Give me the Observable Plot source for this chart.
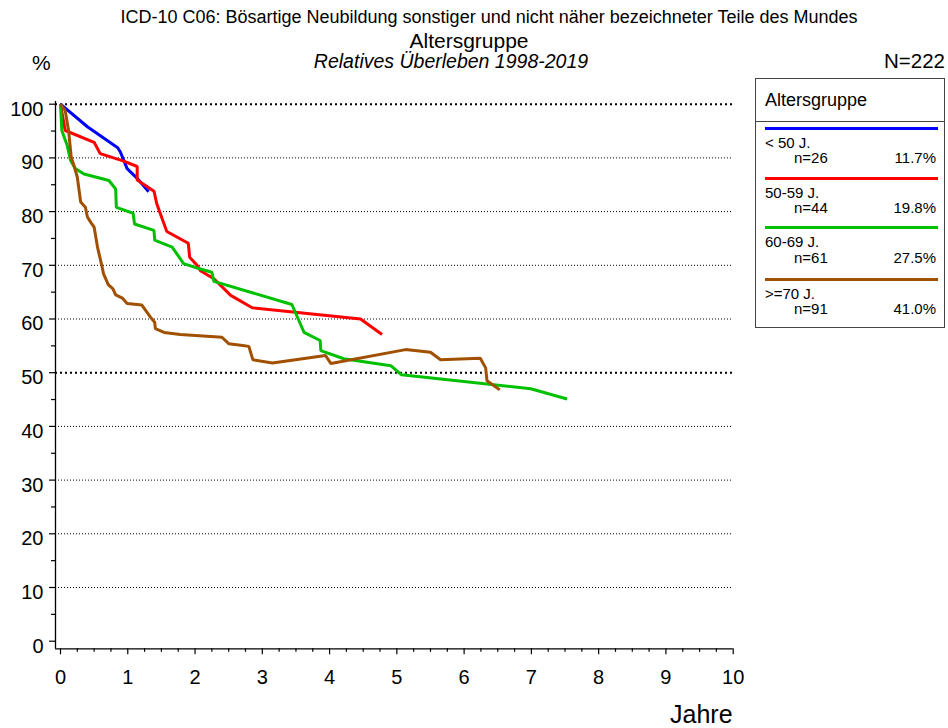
<!DOCTYPE html>
<html>
<head>
<meta charset="utf-8">
<script src="https://cdn.jsdelivr.net/npm/d3@7"></script>
<script src="https://cdn.jsdelivr.net/npm/@observablehq/plot@0.6"></script>
<style>
  html, body { margin: 0; padding: 0; background: #fff; }
  #wrap { position: relative; width: 948px; height: 728px; font-family: "Liberation Sans", Arial, sans-serif; color: #000; }
  #wrap svg { position: absolute; left: 0; top: 0; }
  .abs { position: absolute; white-space: nowrap; line-height: 1; }
  #legend { position: absolute; left: 755px; top: 78px; width: 190px; height: 250px; border: 1px solid #444; box-sizing: border-box; background: #fff; }
  #legend .hdr { position: absolute; left: 9px; top: 11.3px; font-size: 18px; }
  #legend .sep { position: absolute; left: 0; right: 0; top: 41.5px; border-top: 1px solid #444; }
  #legend .item { position: absolute; left: 0; width: 188px; height: 50px; }
  #legend .ln { position: absolute; left: 9px; width: 173px; height: 3px; top: 0; }
  #legend .lab { position: absolute; left: 9px; top: 8px; font-size: 15px; line-height: 15px; }
  #legend .n { position: absolute; left: 38px; top: 23.4px; font-size: 15px; line-height: 15px; }
  #legend .pct { position: absolute; right: 8px; top: 23.4px; font-size: 15px; line-height: 15px; }
</style>
</head>
<body>
<div id="wrap"></div>
<script>
// ---- data ----
const groups = ["< 50 J.", "50-59 J.", "60-69 J.", ">=70 J."];
const groupColors = ["#0000ff", "#ff0000", "#00c000", "#a05000"];
const groupN = [26, 44, 61, 91];
const groupPct = ["11.7%", "19.8%", "27.5%", "41.0%"];

const t50 = [0, 0.4, 0.85, 0.89, 0.99, 1.14, 1.31];
const s50 = [100, 95.8, 91.9, 91.1, 88.0, 86.2, 83.7];

const t5059 = [0, 0.07, 0.5, 0.59, 0.94, 1.14, 1.14, 1.39, 1.43, 1.51, 1.58, 1.90, 1.92, 2.03, 2.08, 2.28, 2.53, 2.85, 4.46, 4.78];
const s5059 = [100, 95.1, 92.9, 90.8, 89.4, 88.4, 85.9, 83.8, 81.5, 78.7, 76.3, 74.1, 71.5, 70.0, 69.0, 67.5, 64.4, 62.1, 60.0, 57.1];

const t6069 = [0, 0.02, 0.10, 0.15, 0.22, 0.35, 0.72, 0.82, 0.83, 1.08, 1.10, 1.39, 1.40, 1.66, 1.83, 2.08, 2.25, 2.28, 3.44, 3.62, 3.86, 3.87, 4.21, 4.91, 5.07, 6.99, 7.53];
const s6069 = [100, 95.1, 92.3, 89.5, 88.0, 87.0, 85.8, 84.2, 80.8, 79.7, 77.7, 76.5, 74.7, 73.4, 70.3, 69.3, 68.7, 67.0, 62.7, 57.5, 56.0, 54.1, 52.6, 51.3, 49.6, 47.0, 45.1];

const t70 = [0, 0.07, 0.12, 0.16, 0.20, 0.25, 0.30, 0.37, 0.40, 0.45, 0.50, 0.55, 0.62, 0.64, 0.71, 0.78, 0.82, 0.92, 0.99, 1.21, 1.34, 1.40, 1.41, 1.54, 1.78, 2.40, 2.50, 2.68, 2.80, 2.86, 3.15, 3.94, 4.02, 5.13, 5.50, 5.65, 6.24, 6.32, 6.34, 6.53];
const s70 = [100, 98.8, 95.1, 90.1, 88.6, 86.4, 81.8, 80.8, 79.0, 78.0, 77.1, 73.4, 69.6, 68.4, 66.4, 65.6, 64.5, 63.9, 62.9, 62.6, 60.3, 59.4, 58.2, 57.5, 57.1, 56.6, 55.4, 55.1, 54.9, 52.4, 51.8, 53.2, 51.7, 54.3, 53.8, 52.4, 52.7, 50.9, 48.5, 46.8];

const yMajor = d3.range(0, 101, 10);
const yMinor = d3.range(5, 100, 10);
const xMajor = d3.range(0, 11, 1);
const xMinor = d3.range(0, 10.01, 0.25).filter(v => Math.abs(v - Math.round(v)) > 1e-9);
const gridThin = [10, 20, 30, 40, 60, 70, 80, 90];
const gridThick = [50, 100];

// ---- table ----
const series = [[t50, s50], [t5059, s5059], [t6069, s6069], [t70, s70]];
const rows = series.flatMap(([t, s], gi) => t.map((x, i) => ({group: groups[gi], t: x, s: s[i]})));

const pxPerYear = 67.27;
const axisOff = 5 / pxPerYear; // y-axis sits 5px left of x=0

const chart = Plot.plot({
  width: 948,
  height: 728,
  marginLeft: 60,
  marginRight: 215.3,
  marginTop: 103.7,
  marginBottom: 87.3,
  style: {fontFamily: "'Liberation Sans', Arial, sans-serif", background: "transparent", color: "#000"},
  x: {domain: [0, 10]},
  y: {domain: [0, 100]},
  color: {domain: groups, range: groupColors},
  marks: [
    Plot.ruleY(gridThin, {x1: -axisOff, x2: 10, stroke: "#000", strokeWidth: 1, strokeDasharray: "1,2"}),
    Plot.ruleY(gridThick, {x1: -axisOff, x2: 10, stroke: "#000", strokeWidth: 2, strokeDasharray: "2,3"}),
    // axes lines
    Plot.ruleX([0], {dx: -5, y1: -1.45, y2: 100.5, stroke: "#000", strokeWidth: 1.3}),
    Plot.ruleY([0], {dy: 7.6, x1: -axisOff, x2: 10, stroke: "#000", strokeWidth: 1.3}),
    // y ticks
    Plot.axisY({ticks: yMajor, tickSize: 6, dx: -5, fill: "none", label: null, strokeWidth: 1.2}),
    Plot.axisY({ticks: yMinor, tickSize: 4, dx: -5, fill: "none", label: null, tickFormat: () => "", strokeWidth: 1.2}),
    Plot.axisY({ticks: yMajor, tickSize: 0, dx: -5, dy: 5, tickPadding: 12, fontSize: 20, label: null}),
    // x ticks
    Plot.axisX({ticks: xMajor, tickSize: 6, dy: 7.6, fill: "none", label: null, strokeWidth: 1.2}),
    Plot.axisX({ticks: xMinor, tickSize: 3.5, dy: 7.6, fill: "none", label: null, tickFormat: () => "", strokeWidth: 1.2}),
    Plot.axisX({ticks: xMajor, tickSize: 0, dy: 7.6, tickPadding: 21.3, fontSize: 20, label: null}),
    // curves
    Plot.line(rows, {x: "t", y: "s", z: "group", stroke: "group", strokeWidth: 3, strokeLinejoin: "miter", strokeLinecap: "butt", curve: "linear"})
  ]
});

const wrap = document.getElementById("wrap");
wrap.appendChild(chart);

function addText(txt, left, top, size, extra = {}) {
  const d = document.createElement("div");
  d.className = "abs";
  d.textContent = txt;
  d.style.left = left + "px";
  d.style.top = top + "px";
  d.style.fontSize = size + "px";
  Object.assign(d.style, extra);
  wrap.appendChild(d);
  return d;
}
addText("ICD-10 C06: Bösartige Neubildung sonstiger und nicht näher bezeichneter Teile des Mundes", 489, 8.2, 18, {transform: "translateX(-50%)"});
addText("Altersgruppe", 469, 29.8, 21, {transform: "translateX(-50%)"});
addText("Relatives Überleben 1998-2019", 451, 51.5, 19.5, {fontStyle: "italic", transform: "translateX(-50%)"});
addText("%", 32, 52, 21);
const nTot = addText("N=222", 0, 51, 20.5);
nTot.style.left = "auto"; nTot.style.right = "3px";
addText("Jahre", 670, 701.8, 25);

// legend
const lg = document.createElement("div");
lg.id = "legend";
lg.innerHTML = '<div class="hdr">Altersgruppe</div><div class="sep"></div>';
const itemTops = [47.8, 97.8, 147.2, 198.5];
groups.forEach((g, i) => {
  const it = document.createElement("div");
  it.className = "item";
  it.style.top = itemTops[i] + "px";
  it.innerHTML = `<div class="ln" style="background:${groupColors[i]}"></div>` +
    `<div class="lab abs"></div><div class="n abs">n=${groupN[i]}</div><div class="pct abs">${groupPct[i]}</div>`;
  it.querySelector(".lab").textContent = g;
  lg.appendChild(it);
});
wrap.appendChild(lg);
</script>
</body>
</html>
